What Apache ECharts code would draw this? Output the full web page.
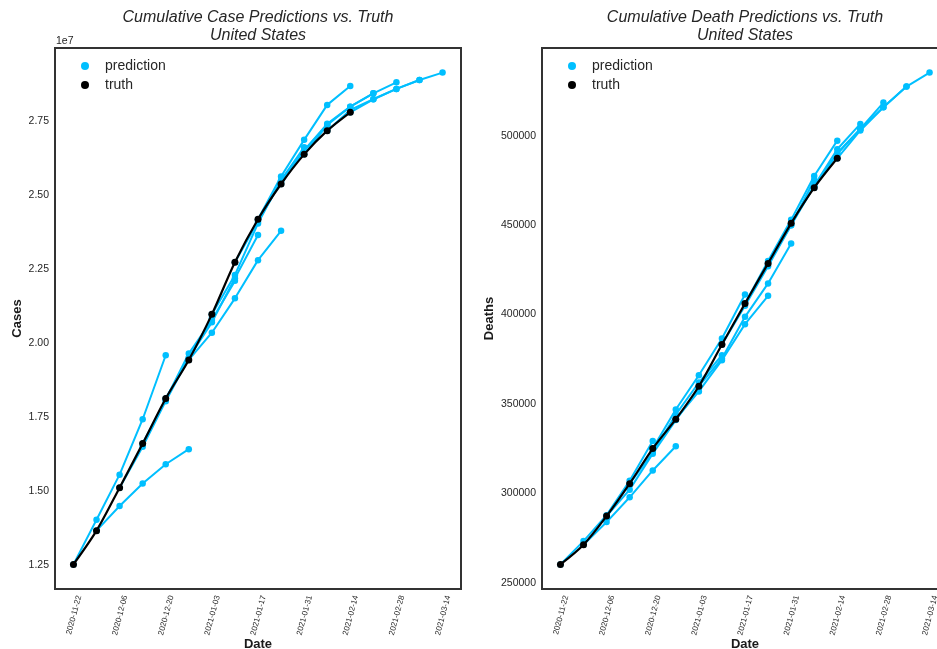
<!DOCTYPE html>
<html>
<head>
<meta charset="utf-8">
<script src="https://cdn.jsdelivr.net/npm/echarts@6/dist/echarts.min.js"></script>
<style>
  html, body { margin: 0; padding: 0; background: #fff; }
  #main { width: 937px; height: 649px; }
</style>
</head>
<body>
<div id="main"></div>
<script>
// weekly truth dates, also the forecast dates
const truthDates = [
  "2020-11-22", "2020-11-29", "2020-12-06", "2020-12-13", "2020-12-20", "2020-12-27",
  "2021-01-03", "2021-01-10", "2021-01-17", "2021-01-24", "2021-01-31", "2021-02-07", "2021-02-14"
];
const caseTruth = [
  12530000, 13670000, 15120000, 16610000, 18130000, 19430000,
  20970000, 22730000, 24180000, 25370000, 26370000, 27170000, 27790000
];
const deathTruth = [
  260250, 271280, 287300, 305440, 325040, 341500,
  359930, 383280, 406240, 428640, 451040, 470980, 487440
];

// one row per forecast date: value at forecast date, then 1..4 weeks ahead
const forecastDates = truthDates;
const casePred = [
  [12530000, 14040000, 15560000, 17430000, 19590000],
  [13670000, 14500000, 15260000, 15910000, 16420000],
  [15120000, 16500000, 18040000, 19500000, 20850000],
  [16610000, 18100000, 19650000, 20780000, 22100000],
  [18130000, 19500000, 20700000, 22190000, 23650000],
  [19430000, 20350000, 21510000, 22800000, 23790000],
  [20970000, 22300000, 24040000, 25500000, 26610000],
  [22730000, 24100000, 25450000, 26500000, 27360000],
  [24180000, 25620000, 26860000, 28040000, 28680000],
  [25370000, 26500000, 27400000, 27980000, 28430000],
  [26370000, 27360000, 27980000, 28430000, 28800000],
  [27170000, 27870000, 28230000, 28580000, 28880000],
  [27790000, 28230000, 28580000, 28880000, 29130000]
];
const deathPred = [
  [260250, 273300, 287800, 307000, 329300],
  [271280, 283940, 297800, 312800, 326330],
  [287300, 302080, 322200, 341000, 358500],
  [305440, 322800, 344000, 362000, 377300],
  [325040, 346880, 366090, 386640, 411280],
  [341500, 357000, 374490, 394650, 410490],
  [359930, 375440, 398740, 417440, 439840],
  [383280, 405000, 427000, 450000, 475280],
  [406240, 430000, 453000, 477530, 497300],
  [428640, 450000, 472000, 492480, 506650],
  [451040, 472000, 490240, 503850, 518580],
  [470980, 490000, 503850, 516000, 527540],
  [487440, 503000, 516000, 527540, 535380]
];

const tickDates = [
  "2020-11-22", "2020-12-06", "2020-12-20", "2021-01-03", "2021-01-17",
  "2021-01-31", "2021-02-14", "2021-02-28", "2021-03-14"
];
const caseTicks = [12500000, 15000000, 17500000, 20000000, 22500000, 25000000, 27500000];
const deathTicks = [250000, 300000, 350000, 400000, 450000, 500000];

const CYAN = "#00BFFF";
const FONT = "'Liberation Sans', Arial, sans-serif";
const DAY = 86400000;
const base = Date.parse(truthDates[0]);

function dayOf(s) {
  return Math.round((Date.parse(s) - base) / DAY);
}
function dateOf(d) {
  return new Date(base + Math.round(d) * DAY).toISOString().slice(0, 10);
}
// matplotlib style 5% margins
function padded(values) {
  let lo = Math.min(...values), hi = Math.max(...values);
  let m = (hi - lo) * 0.05;
  return [lo - m, hi + m];
}

function buildSeries(truth, preds, g) {
  let out = [];
  preds.forEach(function (row, i) {
    let d0 = dayOf(forecastDates[i]);
    out.push({
      type: "line",
      name: "prediction",
      xAxisIndex: g,
      yAxisIndex: g,
      data: row.map((v, k) => [d0 + 7 * k, v]),
      symbol: "circle",
      symbolSize: 6.5,
      lineStyle: { width: 2, color: CYAN },
      itemStyle: { color: CYAN },
      z: 2
    });
  });
  out.push({
    type: "line",
    name: "truth",
    xAxisIndex: g,
    yAxisIndex: g,
    data: truthDates.map((s, i) => [dayOf(s), truth[i]]),
    smooth: 0.3,
    symbol: "circle",
    symbolSize: 7,
    lineStyle: { width: 2.2, color: "#000" },
    itemStyle: { color: "#000" },
    z: 3
  });
  return out;
}

let allDays = [];
forecastDates.forEach(s => { allDays.push(dayOf(s)); allDays.push(dayOf(s) + 28); });
const xRange = padded(allDays);
const caseRange = padded(caseTruth.concat(...casePred));
const deathRange = padded(deathTruth.concat(...deathPred));
const tickDays = tickDates.map(dayOf);

function xAxis(g) {
  return {
    type: "value",
    gridIndex: g,
    min: xRange[0],
    max: xRange[1],
    name: "Date",
    nameLocation: "middle",
    nameGap: 49,
    nameMoveOverlap: false,
    nameTextStyle: { fontFamily: FONT, fontWeight: "bold", fontSize: 13, color: "#1a1a1a" },
    axisLine: { show: false },
    axisTick: { show: false },
    splitLine: { show: false },
    axisLabel: {
      customValues: tickDays,
      formatter: v => dateOf(v),
      rotate: 75,
      margin: 5,
      verticalAlign: "top",
      lineHeight: 12,
      fontFamily: FONT,
      fontSize: 8,
      color: "#262626"
    }
  };
}

function yAxis(g, range, ticks, name, gap, fmt) {
  return {
    type: "value",
    gridIndex: g,
    min: range[0],
    max: range[1],
    name: name,
    nameLocation: "middle",
    nameGap: gap,
    nameMoveOverlap: false,
    nameTextStyle: { fontFamily: FONT, fontWeight: "bold", fontSize: 13, color: "#1a1a1a" },
    axisLine: { show: false },
    axisTick: { show: false },
    splitLine: { show: false },
    axisLabel: {
      customValues: ticks,
      formatter: fmt,
      margin: 6,
      fontFamily: FONT,
      fontSize: 10.5,
      color: "#262626"
    }
  };
}

function legend(left) {
  return {
    orient: "vertical",
    left: left,
    top: 54,
    icon: "circle",
    itemWidth: 8,
    itemHeight: 8,
    itemGap: 5,
    selectedMode: false,
    data: ["prediction", "truth"],
    textStyle: { fontFamily: FONT, fontSize: 14, lineHeight: 14, color: "#262626", padding: [0, 0, 0, 11] }
  };
}

function titleText(x, text) {
  return {
    type: "text",
    x: x,
    y: 9,
    style: {
      text: text,
      fill: "#262626",
      font: "italic 16px " + FONT,
      lineHeight: 18,
      textAlign: "center",
      textVerticalAlign: "top"
    }
  };
}

var chart = echarts.init(document.getElementById("main"), null, { renderer: "canvas" });

var option = {
  animation: false,
  backgroundColor: "#fff",
  grid: [
    { left: 55, top: 48, width: 406, height: 541, outerBoundsMode: "none", show: true, borderColor: "#333", borderWidth: 2 },
    { left: 542, top: 48, width: 406, height: 541, outerBoundsMode: "none", show: true, borderColor: "#333", borderWidth: 2 }
  ],
  xAxis: [xAxis(0), xAxis(1)],
  yAxis: [
    yAxis(0, caseRange, caseTicks, "Cases", 31, v => (v / 1e7).toFixed(2)),
    yAxis(1, deathRange, deathTicks, "Deaths", 46, v => String(v))
  ],
  legend: [legend(76), legend(563)],
  graphic: [
    titleText(258, "Cumulative Case Predictions vs. Truth\nUnited States"),
    titleText(745, "Cumulative Death Predictions vs. Truth\nUnited States"),
    {
      type: "text",
      x: 56,
      y: 41,
      style: { text: "1e7", fill: "#262626", font: "10.5px " + FONT, textVerticalAlign: "middle" }
    }
  ],
  series: buildSeries(caseTruth, casePred, 0).concat(buildSeries(deathTruth, deathPred, 1))
};

option && chart.setOption(option);
</script>
</body>
</html>
